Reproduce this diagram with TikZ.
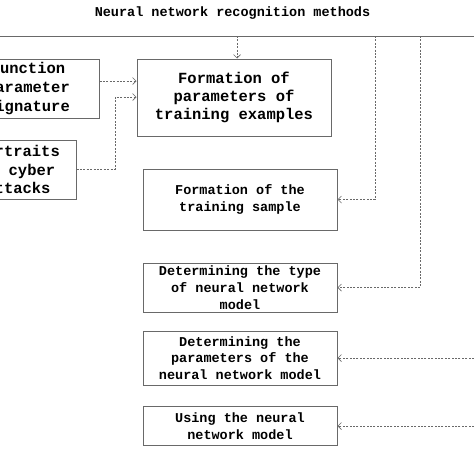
\documentclass[tikz,border=0pt]{standalone}
\usepackage{fontspec}
\setmainfont{Liberation Mono}
\usetikzlibrary{arrows.meta}
\definecolor{ln}{RGB}{105,105,105}
\begin{document}
\begin{tikzpicture}[x=1pt,y=-1pt,
  box/.style={draw=ln,line width=1pt,inner sep=0pt,align=center,font=\bfseries\fontsize{13.5}{16.8}\selectfont},
  bigbox/.style={box,font=\bfseries\fontsize{15.5}{18.3}\selectfont},
  sidebox/.style={box,font=\bfseries\fontsize{15.5}{18.6}\selectfont},
  conn/.style={draw=ln,line width=0.9pt,dash pattern=on 2pt off 1.4pt,-{Straight Barb[length=3.5pt,width=7pt,line width=0.7pt]}}]
\useasboundingbox (0,0) rectangle (474,474);
\clip (0,0) rectangle (474,474);
\fill[white] (0,0) rectangle (474,474);
\node[font=\bfseries\fontsize{13.5}{16}\selectfont] (title) at (232.5,13) {Neural network recognition methods};
\coordinate (lineL) at (0,36);
\coordinate (lineR) at (474,36);
\draw[ln,line width=1pt] (lineL) -- (lineR);
\node[bigbox,minimum width=194pt,minimum height=77pt] (pte) at (234,97.5) {Formation of\\parameters of\\training examples};
\node[sidebox,minimum width=142pt,minimum height=59pt] (fps) at (28,88.5) {Function\\parameter\\signature};
\node[sidebox,minimum width=116pt,minimum height=59pt] (pca) at (18,169.5) {Portraits\\of cyber\\attacks};
\node[box,minimum width=194pt,minimum height=61pt] (ts) at (240,199.5) {Formation of the\\training sample};
\node[box,minimum width=194pt,minimum height=49pt] (tm) at (240,287.5) {Determining the type\\of neural network\\model};
\node[box,minimum width=194pt,minimum height=54pt] (pm) at (240,358) {Determining the\\parameters of the\\neural network model};
\node[box,minimum width=194pt,minimum height=39pt] (um) at (240,426) {Using the neural\\network model};
\coordinate (t1) at (237,36);
\coordinate (v1) at (375,36);
\coordinate (v2) at (420,36);
\coordinate (r1) at (474,358);
\coordinate (r2) at (474,426);
\coordinate (k1) at (115,169);
\draw[conn] (t1) -- (t1 |- pte.north);
\draw[conn] (fps.east |- 0,81) -- (pte.west |- 0,81);
\draw[conn] (pca.east |- k1) -- (k1) |- (pte.west |- 0,97);
\draw[conn] (v1) |- (ts.east);
\draw[conn] (v2) |- (tm.east);
\draw[conn] (r1) -- (pm.east);
\draw[conn] (r2) -- (um.east);
\end{tikzpicture}
\end{document}
